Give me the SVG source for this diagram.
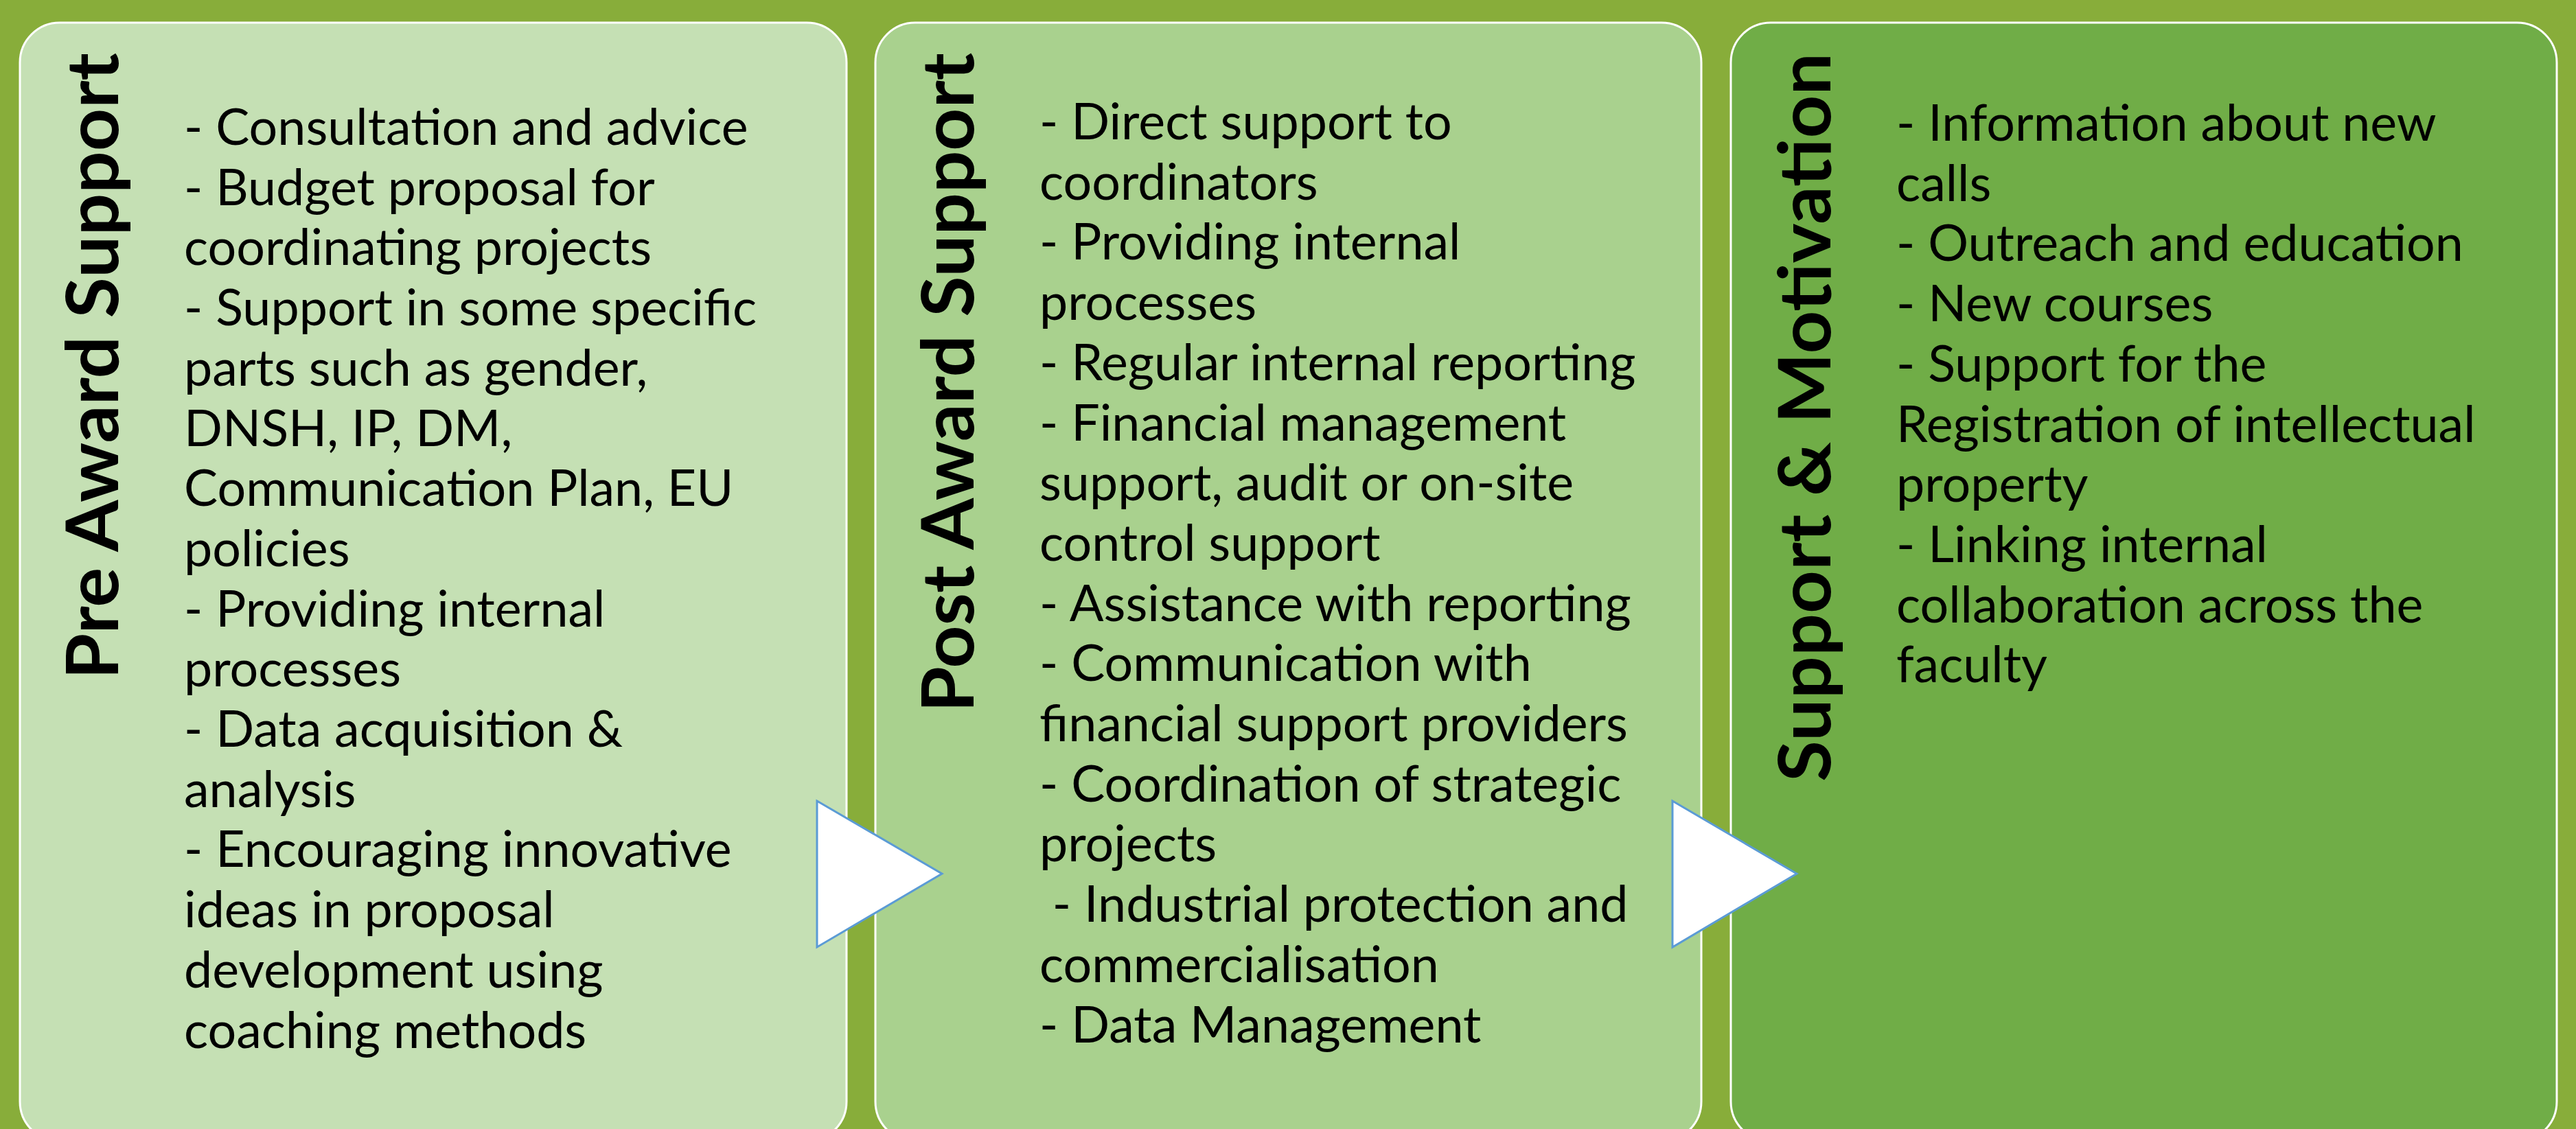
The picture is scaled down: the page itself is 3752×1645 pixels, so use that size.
<svg xmlns="http://www.w3.org/2000/svg" width="3752" height="1645" viewBox="0 0 3752 1645">
<style>
.box{stroke:#ffffff;stroke-width:3}
.title{font-family:Lato,"Open Sans",sans-serif;font-weight:bold;font-size:106px;fill:#000}
.body{font-family:Lato,"Open Sans",sans-serif;font-size:73.6px;fill:#000}
.arrow{fill:#ffffff;stroke:#5b9bd5;stroke-width:3}
</style>
<rect x="0" y="0" width="3752" height="1645" fill="#88ad3a"/>
<g id="node-pre-award">
<rect class="box" x="29" y="33" width="1204" height="1630" rx="58" ry="58" fill="#c5e0b4"/>
<text class="title" transform="translate(172,77) rotate(-90)" text-anchor="end" textLength="913" lengthAdjust="spacingAndGlyphs">Pre Award Support</text>
<g class="body">
<text x="268" y="211">- Consultation and advice</text>
<text x="268" y="298.7">- Budget proposal for</text>
<text x="268" y="386.4">coordinating projects</text>
<text x="268" y="474.1">- Support in some specific</text>
<text x="268" y="561.8">parts such as gender,</text>
<text x="268" y="649.5">DNSH, IP, DM,</text>
<text x="268" y="737.2">Communication Plan, EU</text>
<text x="268" y="824.9">policies</text>
<text x="268" y="912.6">- Providing internal</text>
<text x="268" y="1000.3">processes</text>
<text x="268" y="1088">- Data acquisition &amp;</text>
<text x="268" y="1175.7">analysis</text>
<text x="268" y="1263.4">- Encouraging innovative</text>
<text x="268" y="1351.1">ideas in proposal</text>
<text x="268" y="1438.8">development using</text>
<text x="268" y="1526.5">coaching methods</text>
</g>
</g>
<g id="node-post-award">
<rect class="box" x="1275" y="33" width="1203" height="1630" rx="58" ry="58" fill="#a9d18e"/>
<text class="title" transform="translate(1418,77) rotate(-90)" text-anchor="end" textLength="961" lengthAdjust="spacingAndGlyphs">Post Award Support</text>
<g class="body">
<text x="1514" y="203">- Direct support to</text>
<text x="1514" y="290.7">coordinators</text>
<text x="1514" y="378.4">- Providing internal</text>
<text x="1514" y="466.1">processes</text>
<text x="1514" y="553.8">- Regular internal reporting</text>
<text x="1514" y="641.5">- Financial management</text>
<text x="1514" y="729.2">support, audit or on-site</text>
<text x="1514" y="816.9">control support</text>
<text x="1514" y="904.6">- Assistance with reporting</text>
<text x="1514" y="992.3">- Communication with</text>
<text x="1514" y="1080">financial support providers</text>
<text x="1514" y="1167.7">- Coordination of strategic</text>
<text x="1514" y="1255.4">projects</text>
<text x="1514" y="1343.1" xml:space="preserve"> - Industrial protection and</text>
<text x="1514" y="1430.8">commercialisation</text>
<text x="1514" y="1518.5">- Data Management</text>
</g>
</g>
<g id="node-support-motivation">
<rect class="box" x="2521" y="33" width="1203" height="1630" rx="58" ry="58" fill="#70ad47"/>
<text class="title" transform="translate(2666,77) rotate(-90)" text-anchor="end" textLength="1062" lengthAdjust="spacingAndGlyphs">Support &amp; Motivation</text>
<g class="body">
<text x="2762" y="205">- Information about new</text>
<text x="2762" y="292.7">calls</text>
<text x="2762" y="380.4">- Outreach and education</text>
<text x="2762" y="468.1">- New courses</text>
<text x="2762" y="555.8">- Support for the</text>
<text x="2762" y="643.5">Registration of intellectual</text>
<text x="2762" y="731.2">property</text>
<text x="2762" y="818.9">- Linking internal</text>
<text x="2762" y="906.6">collaboration across the</text>
<text x="2762" y="994.3">faculty</text>
</g>
</g>
<g id="connectors">
<polygon class="arrow" points="1190,1167 1372,1273 1190,1380"/>
<polygon class="arrow" points="2436,1167 2617,1273 2436,1380"/>
</g>
</svg>
